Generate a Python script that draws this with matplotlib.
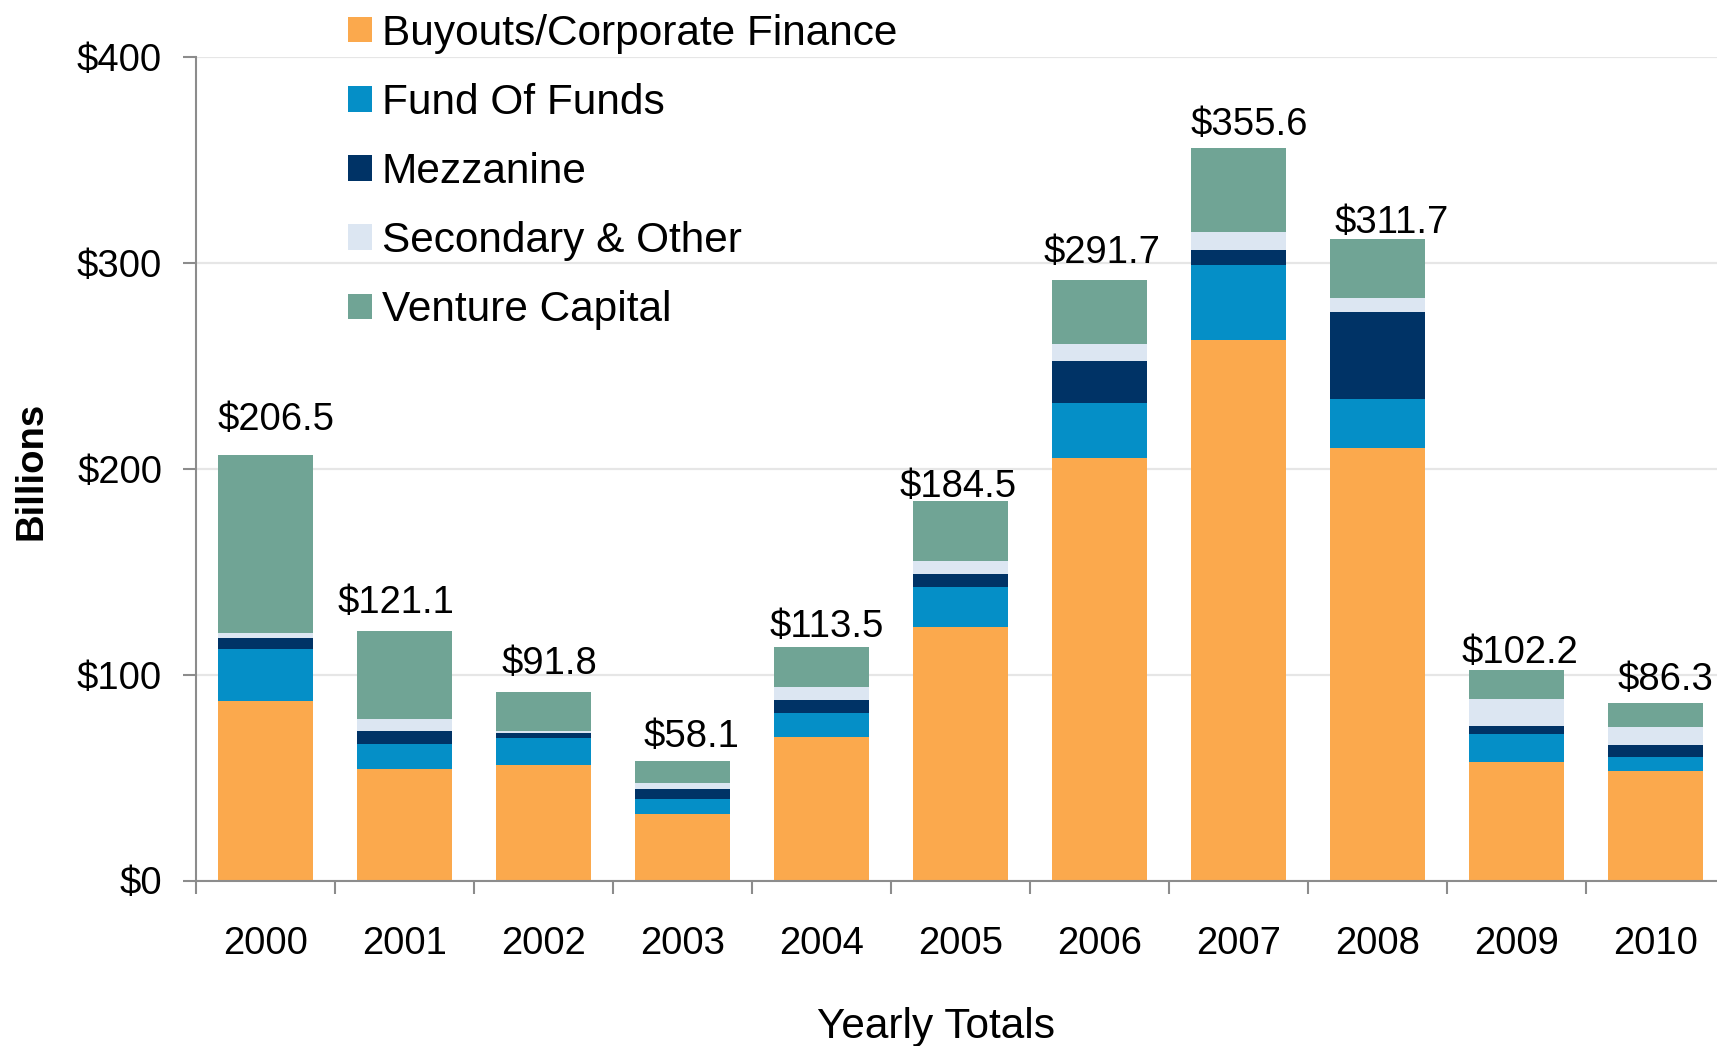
import matplotlib
matplotlib.use("Agg")
import matplotlib.pyplot as plt
import numpy as np

# ---- data ----
categories = ['2000', '2001', '2002', '2003', '2004', '2005',
              '2006', '2007', '2008', '2009', '2010']
buyouts = [87.0, 54.0, 56.0, 32.5, 69.5, 123.0, 205.0, 262.5, 210.0, 57.8, 53.0]
fund_of_funds = [25.5, 12.5, 13.0, 7.0, 11.8, 19.4, 27.0, 36.5, 24.0, 13.5, 7.0]
mezzanine = [5.5, 6.0, 2.5, 5.0, 6.5, 6.6, 20.4, 7.3, 42.0, 3.8, 5.7]
secondary = [2.0, 6.0, 1.0, 3.0, 6.0, 6.0, 8.0, 8.9, 6.8, 13.3, 9.0]
venture = [86.5, 42.6, 19.3, 10.6, 19.7, 29.5, 31.3, 40.4, 28.9, 13.8, 11.6]
totals = [206.5, 121.1, 91.8, 58.1, 113.5, 184.5, 291.7, 355.6, 311.7, 102.2, 86.3]
series_names = ['Buyouts/Corporate Finance', 'Fund Of Funds', 'Mezzanine',
                'Secondary & Other', 'Venture Capital']
y_ticks = [0, 100, 200, 300, 400]

# ---- styling (label nudges in pixels, not data) ----
colors = ['#FBA94D', '#058FC7', '#003366', '#DCE6F2', '#70A495']
label_dx_px = [11, -8, 6, 9, 5, -2, 2, 11, 14, 3, 10]
label_dy_px = [25, 18, 18, 14, 10, 4, 17, 13, 6, 7, 13]

plt.rcParams['font.family'] = ['Liberation Sans', 'DejaVu Sans']
PX = 0.72  # points per pixel at dpi=100

W, H = 1717, 1046
fig = plt.figure(figsize=(W / 100, H / 100), dpi=100)
ax = fig.add_axes([196 / W, (H - 880.5) / H, 1529 / W, 823.5 / H])

x = np.arange(len(categories))
bottom = np.zeros(len(categories))
handles = []
for vals, col, name in zip([buyouts, fund_of_funds, mezzanine, secondary, venture],
                           colors, series_names):
    b = ax.bar(x, vals, width=0.683, bottom=bottom, color=col,
               edgecolor='none', label=name, zorder=3)
    handles.append(b)
    bottom = bottom + np.array(vals)

for i, t in enumerate(totals):
    ax.annotate(f'${t:.1f}', xy=(x[i], bottom[i]),
                xytext=(label_dx_px[i] * PX, label_dy_px[i] * PX),
                textcoords='offset points', ha='center', va='baseline',
                fontsize=27.5, color='#000000', zorder=5)

ax.set_xlim(-0.5, len(categories) - 0.5)
ax.set_ylim(0, 400)
ax.set_yticks(y_ticks)
ax.set_yticklabels([f'${v}' for v in y_ticks], fontsize=27.5)
ax.yaxis.grid(True, color='#E6E6E6', linewidth=1.6, zorder=0)
ax.set_axisbelow(True)

# x: boundary ticks (major), labels on centre (minor)
ax.set_xticks(np.arange(-0.5, len(categories), 1.0))
ax.set_xticklabels([])
ax.set_xticks(x, minor=True)
ax.set_xticklabels(categories, minor=True, fontsize=27.5)
ax.tick_params(axis='x', which='major', direction='out', length=13 * PX,
               width=1.5, color='#8C8C8C')
ax.tick_params(axis='x', which='minor', length=0, pad=33)
ax.tick_params(axis='y', direction='out', length=13 * PX, width=1.5,
               color='#8C8C8C', pad=15)

for s in ['top', 'right']:
    ax.spines[s].set_visible(False)
for s in ['left', 'bottom']:
    ax.spines[s].set_color('#8C8C8C')
    ax.spines[s].set_linewidth(1.5)
    ax.spines[s].set_zorder(4)

fig.text(31 / W, 1 - 471 / H, 'Billions', rotation=90, ha='center', va='center',
         fontsize=27.5, fontweight='bold')
fig.text(936 / W, (H - 1038) / H, 'Yearly Totals', ha='center', va='baseline',
         fontsize=30.5)

leg = fig.legend(handles=handles, labels=series_names, loc='upper left',
                 bbox_to_anchor=(348 / W, 1 - 13.5 / H), frameon=False,
                 fontsize=30.5, handlelength=0.56, handleheight=0.56,
                 handletextpad=0.24, labelspacing=0.69, borderpad=0,
                 borderaxespad=0)

fig.savefig('out.png', dpi=100)
